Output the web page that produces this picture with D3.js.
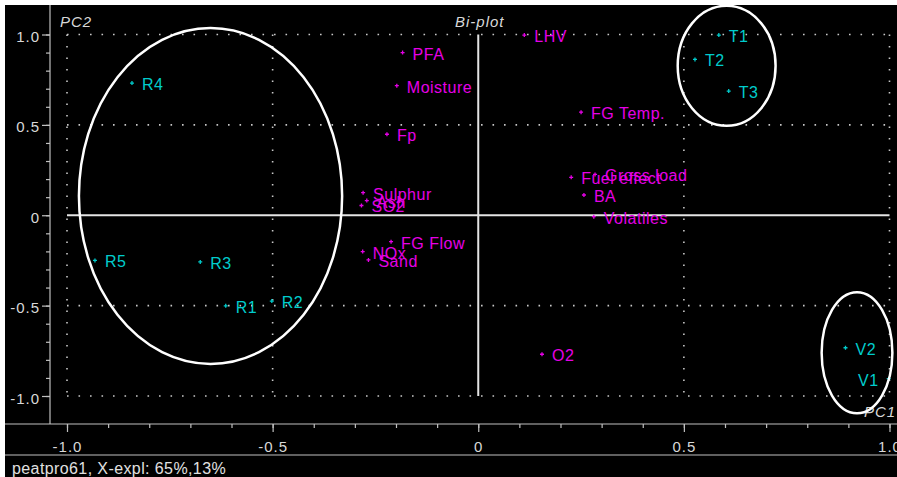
<!DOCTYPE html>
<html>
<head>
<meta charset="utf-8">
<script src="https://cdn.jsdelivr.net/npm/d3@7"></script>
<style>
  html, body { margin: 0; padding: 0; background: #fff; overflow: hidden; }
  text { font-family: "Liberation Sans", Arial, sans-serif; }
</style>
</head>
<body>
<svg id="chart" width="897" height="477"></svg>
<script>
// Object scores (samples) on PC1 / PC2
const sampleNames = ["R1", "R2", "R3", "R4", "R5", "T1", "T2", "T3", "V1", "V2"];
const samplePC1   = [-0.614, -0.502, -0.676, -0.842, -0.932, 0.585, 0.527, 0.609, 0.998, 0.893];
const samplePC2   = [-0.501, -0.475, -0.258, 0.731, -0.250, 0.997, 0.862, 0.687, -0.904, -0.733];

// Variable loadings on PC1 / PC2
const variableNames = ["LHV", "PFA", "Moisture", "Fp", "FG Temp.", "Sulphur", "Ash", "SO2",
                       "NOx", "Sand", "FG Flow", "Fuel effect", "Gross load", "BA", "Volatiles", "O2"];
const variablePC1   = [0.112, -0.184, -0.198, -0.222, 0.250, -0.280, -0.271, -0.284,
                       -0.281, -0.267, -0.212, 0.226, 0.284, 0.257, 0.281, 0.155];
const variablePC2   = [0.997, 0.900, 0.717, 0.448, 0.570, 0.125, 0.081, 0.054,
                       -0.201, -0.247, -0.146, 0.210, 0.226, 0.112, -0.008, -0.769];

// Sample groups outlined on the plot (centre and semi-axes in PC units)
const groupPC1     = [-0.651, 0.604, 0.921];
const groupPC2     = [0.1065, 0.827, -0.761];
const groupSpread1 = [0.320, 0.119, 0.086];
const groupSpread2 = [0.929, 0.332, 0.335];

// Axis ticks
const majorTicks  = [-1, -0.5, 0, 0.5, 1];
const tickLabels  = ["-1.0", "-0.5", "0", "0.5", "1.0"];
const minorTicks  = [-1, -0.9, -0.8, -0.7, -0.6, -0.5, -0.4, -0.3, -0.2, -0.1, 0,
                     0.1, 0.2, 0.3, 0.4, 0.5, 0.6, 0.7, 0.8, 0.9, 1];
const gridValues  = [-1, -0.5, 0.5, 1];

const titleText  = "Bi-plot";
const xAxisName  = "PC1";
const yAxisName  = "PC2";
const statusText = "peatpro61, X-expl: 65%,13%";

const SAMPLE_COLOR = "#00cccc";
const VAR_COLOR = "#e600e6";
const FRAME = "#c0c0c0";
const TEXT = "#d8d8d8";

const svg = d3.select("#chart");
const W = 897, H = 477;

// panel background
svg.append("rect").attr("width", W).attr("height", H).attr("fill", "#fff");
svg.append("rect").attr("x", 5).attr("y", 5).attr("width", W - 5).attr("height", H - 5).attr("fill", "#000");

const x = d3.scaleLinear().domain([-1, 1]).range([67, 889.5]);
const y = d3.scaleLinear().domain([-1, 1]).range([396, 34.5]);

const plotLeft = 50, plotBottom = 424;

svg.append("clipPath").attr("id", "plotClip")
  .append("rect").attr("x", plotLeft + 1).attr("y", 5).attr("width", W - plotLeft - 1).attr("height", plotBottom - 5);

// frame lines
svg.append("line").attr("x1", plotLeft).attr("x2", plotLeft).attr("y1", 5).attr("y2", plotBottom)
  .attr("stroke", FRAME).attr("stroke-width", 1.2);
[plotBottom, 455].forEach(v => {
  svg.append("line").attr("x1", 5).attr("x2", W).attr("y1", v).attr("y2", v)
    .attr("stroke", FRAME).attr("stroke-width", 1.2);
});

// y axis ticks
const yMinor = svg.append("g").attr("transform", `translate(${plotLeft},0)`)
  .call(d3.axisLeft(y).tickValues(minorTicks).tickSize(4).tickFormat(""));
const yMajor = svg.append("g").attr("transform", `translate(${plotLeft},0)`)
  .call(d3.axisLeft(y).tickValues(majorTicks).tickSize(8).tickFormat((d, i) => tickLabels[i]));
[yMinor, yMajor].forEach(g => {
  g.select(".domain").remove();
  g.selectAll("line").attr("stroke", FRAME).attr("stroke-width", 1.2);
});
yMajor.selectAll("text")
  .attr("x", -10).attr("dy", null).attr("y", 7)
  .attr("fill", TEXT).style("font-size", "15px").style("letter-spacing", "1px")
  .style("font-family", "'Liberation Sans', Arial, sans-serif");

// x axis ticks (hang down from the plot's bottom edge)
const xMinor = svg.append("g").attr("transform", `translate(0,${plotBottom})`)
  .call(d3.axisBottom(x).tickValues(minorTicks).tickSize(4).tickFormat(""));
const xMajor = svg.append("g").attr("transform", `translate(0,${plotBottom})`)
  .call(d3.axisBottom(x).tickValues(majorTicks).tickSize(8).tickFormat((d, i) => tickLabels[i]));
[xMinor, xMajor].forEach(g => {
  g.select(".domain").remove();
  g.selectAll("line").attr("stroke", FRAME).attr("stroke-width", 1.2);
});
xMajor.selectAll("text")
  .attr("dy", null).attr("y", 27.5)
  .attr("fill", TEXT).style("font-size", "15px").style("letter-spacing", "1px")
  .style("font-family", "'Liberation Sans', Arial, sans-serif");

const plot = svg.append("g").attr("clip-path", "url(#plotClip)");

// dotted reference grid
const grid = plot.append("g").attr("stroke", "#c8c8c8").attr("stroke-width", 1.6)
  .attr("stroke-dasharray", "1.6,9.9");
grid.selectAll("line.v").data(gridValues).join("line").attr("class", "v")
  .attr("x1", d => x(d)).attr("x2", d => x(d)).attr("y1", y(1)).attr("y2", y(-1));
grid.selectAll("line.h").data(gridValues).join("line").attr("class", "h")
  .attr("y1", d => y(d)).attr("y2", d => y(d)).attr("x1", x(-1)).attr("x2", x(1));

// zero axes
plot.append("line").attr("x1", x(-1)).attr("x2", x(1)).attr("y1", y(0)).attr("y2", y(0))
  .attr("stroke", "#e4e4e4").attr("stroke-width", 2);
plot.append("line").attr("x1", x(0)).attr("x2", x(0)).attr("y1", y(1)).attr("y2", y(-1))
  .attr("stroke", "#e4e4e4").attr("stroke-width", 2);

// titles
const italic = (t, px, py) => plot.append("text").attr("x", px).attr("y", py).text(t)
  .attr("fill", TEXT).style("font-style", "italic").style("font-size", "15px").style("letter-spacing", "1px");
italic(yAxisName, 60, 27);
italic(titleText, 455, 27);
italic(xAxisName, 864, 417);

// point marker + label
function drawPoints(names, px, py, color) {
  const g = plot.append("g");
  names.forEach((name, i) => {
    const cx = x(px[i]), cy = y(py[i]);
    g.append("path").attr("d", `M${cx - 2},${cy}H${cx + 2}M${cx},${cy - 2}V${cy + 2}`)
      .attr("stroke", color).attr("stroke-width", 1.3);
    const t = g.append("text").attr("x", cx + 10).attr("y", cy + 7).text(name)
      .attr("fill", color).style("font-size", "16px").style("letter-spacing", "0.5px");
    // labels that would run off the right edge go on the left side of the marker
    if (cx + 10 + t.node().getComputedTextLength() > W - 4) {
      t.attr("x", cx - 10).attr("text-anchor", "end");
    }
  });
}
drawPoints(variableNames, variablePC1, variablePC2, VAR_COLOR);
drawPoints(sampleNames, samplePC1, samplePC2, SAMPLE_COLOR);

// group outlines
plot.append("g").selectAll("ellipse").data(groupPC1).join("ellipse")
  .attr("cx", d => x(d))
  .attr("cy", (d, i) => y(groupPC2[i]))
  .attr("rx", (d, i) => x(groupSpread1[i]) - x(0))
  .attr("ry", (d, i) => y(0) - y(groupSpread2[i]))
  .attr("fill", "none").attr("stroke", "#fff").attr("stroke-width", 2.5);

// status line
svg.append("text").attr("x", 12).attr("y", 474).text(statusText)
  .attr("fill", "#e0e0e0").style("font-size", "16px").style("letter-spacing", "0.4px");
</script>
</body>
</html>
